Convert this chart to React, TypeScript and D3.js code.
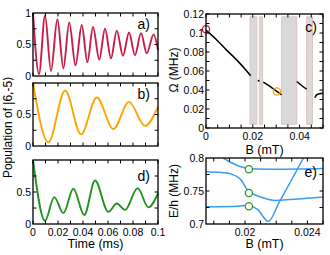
import * as d3 from "d3";

const FONT = "'Liberation Sans', Arial, Helvetica, sans-serif";

// population traces: turning points (time in ms)
const timeA = [0, 0.0048, 0.0096, 0.0144, 0.0195, 0.0243, 0.029, 0.034, 0.039, 0.0435, 0.048, 0.053, 0.0576, 0.0624, 0.067, 0.072, 0.0768, 0.0816, 0.0864, 0.091, 0.0965, 0.1];
const popA = [1, 0.03, 0.96, 0.08, 0.9, 0.12, 0.85, 0.17, 0.81, 0.22, 0.78, 0.26, 0.75, 0.28, 0.72, 0.32, 0.69, 0.33, 0.68, 0.36, 0.66, 0.41];
const timeB = [0, 0.0123, 0.0257, 0.0384, 0.051, 0.0643, 0.0768, 0.0896, 0.1];
const popB = [1, 0.06, 0.88, 0.185, 0.77, 0.27, 0.7, 0.32, 0.62];
const timeD = [0, 0.0096, 0.017, 0.0243, 0.0323, 0.041, 0.0496, 0.0603, 0.067, 0.0736, 0.0837, 0.0923, 0.1];
const popD = [1, 0.05, 0.42, 0.17, 0.55, 0.14, 0.68, 0.19, 0.32, 0.22, 0.56, 0.26, 0.48];

// panel c: Rabi frequency vs field, broken into pieces between resonances
const omegaSegs: [number, number][][] = [
  [[0, 0.103], [0.0046, 0.0927], [0.0088, 0.082], [0.0131, 0.0717], [0.0174, 0.06], [0.0191, 0.0549]],
  [[0.0245, 0.0483], [0.0275, 0.0435], [0.0303, 0.0385], [0.0323, 0.035]],
  [[0.0388, 0.049], [0.041, 0.0445], [0.043, 0.041]],
  [[0.0465, 0.032], [0.0475, 0.0352], [0.05, 0.0365]],
];
const omegaDot: [number, number] = [0.0225, 0.0497];
const bandLo = [0.0188, 0.0228, 0.0323, 0.043];
const bandHi = [0.0217, 0.0242, 0.0388, 0.0455];
const bandOmega = [0.004, 0.117];
const markRed: [number, number] = [0, 0.104];
const markOrange: [number, number] = [0.0303, 0.0385];

// panel e: energy levels near the crossing
const levels: [number, number][][] = [
  [[0.0175, 0.779], [0.0185, 0.778], [0.0191, 0.776], [0.0197, 0.768], [0.02025, 0.749], [0.021, 0.741], [0.0218, 0.736], [0.0228, 0.737], [0.025, 0.741]],
  [[0.0186, 0.8], [0.0192, 0.792], [0.0197, 0.787], [0.02025, 0.784], [0.022, 0.783], [0.025, 0.784]],
  [[0.0175, 0.726], [0.0195, 0.727], [0.02025, 0.728], [0.0208, 0.722], [0.0215, 0.704], [0.0222, 0.733], [0.02375, 0.8]],
];
const levelMarks: [number, number][] = [[0.02025, 0.783], [0.02025, 0.747], [0.02025, 0.727]];

const timeTicks = [0, 0.02, 0.04, 0.06, 0.08, 0.1];
const timeLabels = ["0", "0.02", "0.04", "0.06", "0.08", "0.1"];
const omegaTicks = [0, 0.02, 0.04, 0.06, 0.08, 0.1, 0.12];
const omegaLabels = ["0", "0.02", "0.04", "0.06", "0.08", "0.1", "0.12"];
const bTicksC = [0, 0.02, 0.04];
const bLabelsC = ["0", "0.02", "0.04"];
const bTicksE = [0.02, 0.024];
const bLabelsE = ["0.02", "0.024"];
const eTicks = [0.7, 0.75, 0.8];
const eLabels = ["0.7", "0.75", "0.8"];

const LX0 = 33, LX1 = 158;
const RX0 = 206, RX1 = 323;

type Scale = d3.ScaleLinear<number, number>;

function Frame({ x, y, xMinor, yMinor }: { x: Scale; y: Scale; xMinor: number[]; yMinor: number[] }) {
  const [xa, xb] = x.range();
  const [yb, ya] = y.range();
  const T = 3.5;
  return (
    <g stroke="#000" strokeWidth={1}>
      {xMinor.map((v, i) => (
        <g key={"x" + i}>
          <line x1={x(v)} x2={x(v)} y1={yb} y2={yb - T} />
          <line x1={x(v)} x2={x(v)} y1={ya} y2={ya + T} />
        </g>
      ))}
      {yMinor.map((v, i) => (
        <g key={"y" + i}>
          <line x1={xa} x2={xa + T} y1={y(v)} y2={y(v)} />
          <line x1={xb} x2={xb - T} y1={y(v)} y2={y(v)} />
        </g>
      ))}
      <rect x={xa} y={ya} width={xb - xa} height={yb - ya} fill="none" strokeWidth={1.3} />
    </g>
  );
}

function YLabels({ y, x, ticks, labels }: { y: Scale; x: number; ticks: number[]; labels: string[] }) {
  return (
    <g fontSize={10.5} textAnchor="end">
      {ticks.map((v, i) => (
        <text key={i} x={x} y={y(v)} dy="0.36em">{labels[i]}</text>
      ))}
    </g>
  );
}

function XLabels({ x, y, ticks, labels }: { x: Scale; y: number; ticks: number[]; labels: string[] }) {
  return (
    <g fontSize={10.5} textAnchor="middle">
      {ticks.map((v, i) => (
        <text key={i} x={x(v)} y={y}>{labels[i]}</text>
      ))}
    </g>
  );
}

function Trace({ t, p, top, bottom, color, label, labelY }: { t: number[]; p: number[]; top: number; bottom: number; color: string; label: string; labelY: number }) {
  const x = d3.scaleLinear().domain([0, 0.1]).range([LX0, LX1]);
  const y = d3.scaleLinear().domain([0, 1]).range([bottom, top]);
  const path = d3.line<number>().x((_, i) => x(t[i])).y((v) => y(v)).curve(d3.curveMonotoneX)(p) ?? "";
  return (
    <g>
      <path d={path} fill="none" stroke={color} strokeWidth={1.9} />
      <Frame x={x} y={y} xMinor={d3.range(0, 0.1001, 0.01)} yMinor={[0.25, 0.5, 0.75]} />
      <text x={150} y={labelY} fontSize={14} textAnchor="end">{label}</text>
    </g>
  );
}

export default function App() {
  const yA = d3.scaleLinear().domain([0, 1]).range([76, 13]);
  const yB = d3.scaleLinear().domain([0, 1]).range([146, 83]);
  const yD = d3.scaleLinear().domain([0, 1]).range([224, 160]);
  const xT = d3.scaleLinear().domain([0, 0.1]).range([LX0, LX1]);

  const xC = d3.scaleLinear().domain([0, 0.05]).range([RX0, RX1]);
  const yC = d3.scaleLinear().domain([0, 0.12]).range([128, 14]);
  const xE = d3.scaleLinear().domain([0.0175, 0.025]).range([RX0, RX1]);
  const yE = d3.scaleLinear().domain([0.7, 0.8]).range([224, 158]);

  const cLine = d3.line<[number, number]>().x((d) => xC(d[0])).y((d) => yC(d[1])).curve(d3.curveMonotoneX);
  const eLine = d3.line<[number, number]>().x((d) => xE(d[0])).y((d) => yE(d[1])).curve(d3.curveCatmullRom);

  return (
    <svg width={330} height={255} style={{ position: "absolute", left: 0, top: 0, fontFamily: FONT }}>
      <rect width={330} height={255} fill="#fff" />

      {/* left column: populations */}
      <Trace t={timeA} p={popA} top={13} bottom={76} color="#c91d47" label="a)" labelY={29} />
      <Trace t={timeB} p={popB} top={83} bottom={146} color="#ffa500" label="b)" labelY={99} />
      <Trace t={timeD} p={popD} top={160} bottom={224} color="#1f921f" label="d)" labelY={181} />
      <YLabels y={yA} x={31} ticks={[0, 0.5, 1]} labels={["0", "0.5", "1"]} />
      <YLabels y={yB} x={31} ticks={[0, 0.5]} labels={["0", "0.5"]} />
      <YLabels y={yD} x={31} ticks={[0, 0.5]} labels={["0", "0.5"]} />
      <XLabels x={xT} y={236} ticks={timeTicks} labels={timeLabels} />
      <text x={(LX0 + LX1) / 2} y={248} fontSize={12.5} textAnchor="middle">Time (ms)</text>
      <text transform="translate(12,127) rotate(-90)" fontSize={12} textAnchor="middle">Population of |6,-5⟩</text>

      {/* panel c */}
      <g>
        {bandLo.map((b, i) => (
          <rect key={i} x={xC(b)} y={yC(bandOmega[1])} width={xC(bandHi[i]) - xC(b)} height={yC(bandOmega[0]) - yC(bandOmega[1])} fill="#d9d9d9" stroke="#dcc4c4" strokeWidth={1} />
        ))}
        {omegaSegs.map((s, i) => (
          <path key={i} d={cLine(s) ?? ""} fill="none" stroke="#000" strokeWidth={1.5} />
        ))}
        <circle cx={xC(omegaDot[0])} cy={yC(omegaDot[1])} r={1} fill="#000" />
        <circle cx={xC(markRed[0])} cy={yC(markRed[1])} r={3.6} fill="none" stroke="#d0103a" strokeWidth={1.3} />
        <circle cx={xC(markOrange[0])} cy={yC(markOrange[1])} r={3.6} fill="none" stroke="#ffa500" strokeWidth={1.3} />
        <Frame x={xC} y={yC} xMinor={d3.range(0, 0.0501, 0.005)} yMinor={d3.range(0, 0.1201, 0.01)} />
        <YLabels y={yC} x={204} ticks={omegaTicks} labels={omegaLabels} />
        <XLabels x={xC} y={140} ticks={bTicksC} labels={bLabelsC} />
        <text x={(RX0 + RX1) / 2} y={154} fontSize={12.5} textAnchor="middle">B (mT)</text>
        <text transform="translate(178,70) rotate(-90)" fontSize={12} textAnchor="middle">Ω (MHz)</text>
        <text x={317} y={32} fontSize={14} textAnchor="end">c)</text>
      </g>

      {/* panel e */}
      <g>
        <defs>
          <clipPath id="clipE">
            <rect x={RX0} y={158} width={RX1 - RX0} height={66} />
          </clipPath>
        </defs>
        <g clipPath="url(#clipE)">
          {levels.map((s, i) => (
            <path key={i} d={eLine(s) ?? ""} fill="none" stroke="#3b9cf0" strokeWidth={1.5} />
          ))}
        </g>
        {levelMarks.map((m, i) => (
          <circle key={i} cx={xE(m[0])} cy={yE(m[1])} r={3.6} fill="#fff" stroke="#2a9d2a" strokeWidth={1.3} />
        ))}
        <Frame x={xE} y={yE} xMinor={d3.range(0.018, 0.02501, 0.001)} yMinor={[0.725, 0.75, 0.775]} />
        <YLabels y={yE} x={204} ticks={eTicks} labels={eLabels} />
        <XLabels x={xE} y={236} ticks={bTicksE} labels={bLabelsE} />
        <text x={(RX0 + RX1) / 2} y={248} fontSize={12.5} textAnchor="middle">B (mT)</text>
        <text transform="translate(178,191) rotate(-90)" fontSize={12} textAnchor="middle">E/h (MHz)</text>
        <text x={317} y={177} fontSize={14} textAnchor="end">e)</text>
      </g>
    </svg>
  );
}
